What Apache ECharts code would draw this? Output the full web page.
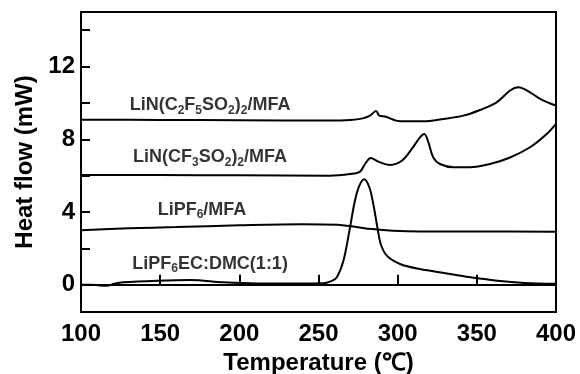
<!DOCTYPE html>
<html>
<head>
<meta charset="utf-8">
<script src="https://cdn.jsdelivr.net/npm/echarts@6/dist/echarts.min.js"></script>
<style>
  html, body { margin: 0; padding: 0; background: #fff; }
  #chart { width: 580px; height: 374px; }
</style>
</head>
<body>
<div id="chart"></div>
<script>
// DSC curves, heat flow (mW) vs temperature (C)
var c2f5Curve = [
  [100, 9.08], [150, 9.06], [200, 9.05], [257, 9.03], [270, 9.06], [278, 9.15], [282.5, 9.3],
  [286.3, 9.55], [288.4, 9.3], [292, 9.25], [301.5, 8.99], [316, 8.99], [329, 9.12],
  [341.5, 9.3], [352, 9.61], [362.5, 10.03], [371, 10.68], [376.2, 10.86], [383.6, 10.58],
  [390, 10.22], [396, 9.98], [400, 9.85]
];
var cf3Curve = [
  [100, 6.04], [150, 6.03], [200, 6.02], [257, 6.0], [270, 6.09], [276.2, 6.22], [279.4, 6.64],
  [283, 6.97], [287.8, 6.77], [295.2, 6.59], [302.6, 6.82], [308.9, 7.47], [314.1, 8.11],
  [316.8, 8.29], [319.4, 7.83], [322.5, 7.0], [326.7, 6.64], [335.2, 6.46], [345.7, 6.46],
  [358.3, 6.64], [371, 7.0], [383.6, 7.56], [394.1, 8.29], [400, 8.85]
];
var pf6MfaCurve = [
  [100, 3.0], [130, 3.1], [160, 3.17], [200, 3.27], [240, 3.33], [262, 3.3], [272, 3.2],
  [284, 3.06], [297, 2.97], [314, 2.93], [350, 2.93], [400, 2.92]
];
var pf6EcCurve = [
  [100, 0.0], [106, 0.0], [112, -0.04], [117, -0.05], [121, 0.05], [126.7, 0.13], [148, 0.22],
  [169, 0.26], [190, 0.13], [211, 0.07], [232, 0.07], [253, 0.08], [258, 0.2], [261.5, 0.4],
  [265.7, 1.3], [269.9, 3.15], [273, 4.62], [275.8, 5.45], [278.9, 5.8], [282.1, 5.36],
  [284.6, 4.44], [287.2, 3.15], [289.3, 2.24], [293.1, 1.6], [301.5, 1.14], [314, 0.86],
  [331, 0.62], [345, 0.42], [363, 0.22], [380, 0.1], [400, 0.05]
];

var curveNames = ['LiN(C_2F_5SO_2)_2/MFA', 'LiN(CF_3SO_2)_2/MFA', 'LiPF_6/MFA', 'LiPF_6EC:DMC(1:1)'];
var curves = [c2f5Curve, cf3Curve, pf6MfaCurve, pf6EcCurve];
// where each curve name sits (data coords, text centre)
var nameAnchors = [[181.5, 9.9], [181.5, 7.04], [176.4, 4.13], [181.5, 1.16]];

var yTicks = [0, 2, 4, 6, 8, 10, 12, 14];
var yLabels = [0, 4, 8, 12];

var FONT = '"Liberation Sans", Arial, sans-serif';

// "_d" -> subscript digit
function toRich(s) {
  var out = '';
  var buf = '';
  for (var i = 0; i < s.length; i++) {
    if (s[i] === '_') {
      if (buf) { out += '{m|' + buf + '}'; buf = ''; }
      out += '{s|' + s[i + 1] + '}';
      i++;
    } else {
      buf += s[i];
    }
  }
  if (buf) out += '{m|' + buf + '}';
  return out;
}

var chart = echarts.init(document.getElementById('chart'));

var series = curves.map(function (d, i) {
  return {
    name: curveNames[i],
    type: 'line',
    data: d,
    showSymbol: false,
    smooth: 0.35,
    lineStyle: { color: '#000', width: 2 },
    silent: true
  };
});

series.push({
  type: 'scatter',
  symbolSize: 0,
  silent: true,
  z: 10,
  data: nameAnchors.map(function (p, i) {
    return {
      value: p,
      label: { formatter: toRich(curveNames[i]) }
    };
  }),
  label: {
    show: true,
    position: 'inside',
    color: '#000',
    rich: {
      m: { fontSize: 18, fontWeight: 'bold', fontFamily: FONT, lineHeight: 22, color: '#000' },
      s: { fontSize: 12, fontWeight: 'bold', fontFamily: FONT, lineHeight: 12, padding: [11, 0, 0, 0], color: '#000' }
    }
  }
});

var option = {
  animation: false,
  backgroundColor: '#fff',
  grid: {
    left: 81, right: 24, top: 12, bottom: 62,
    outerBoundsMode: 'none',
    show: true,
    borderColor: '#000',
    borderWidth: 2
  },
  xAxis: {
    type: 'value',
    min: 100,
    max: 400,
    interval: 50,
    name: 'Temperature (\u2103)',
    nameLocation: 'middle',
    nameGap: 33,
    nameTextStyle: { fontSize: 24, fontWeight: 'bold', fontFamily: FONT, color: '#000' },
    axisLine: { lineStyle: { color: '#000', width: 2 } },
    axisTick: { inside: true, length: 10, lineStyle: { color: '#000', width: 2 } },
    axisLabel: { fontSize: 24, fontWeight: 'bold', fontFamily: FONT, color: '#000', margin: 10 },
    splitLine: { show: false }
  },
  yAxis: {
    type: 'value',
    min: -1.5,
    max: 15,
    name: 'Heat flow (mW)',
    nameLocation: 'middle',
    nameGap: 44,
    nameTextStyle: { fontSize: 24, fontWeight: 'bold', fontFamily: FONT, color: '#000' },
    axisLine: { lineStyle: { color: '#000', width: 2 } },
    axisTick: { inside: true, length: 9, customValues: yTicks, lineStyle: { color: '#000', width: 2 } },
    axisLabel: { fontSize: 24, fontWeight: 'bold', fontFamily: FONT, color: '#000', margin: 6, customValues: yLabels },
    splitLine: { show: false }
  },
  series: series
};

chart.setOption(option);
</script>
</body>
</html>
